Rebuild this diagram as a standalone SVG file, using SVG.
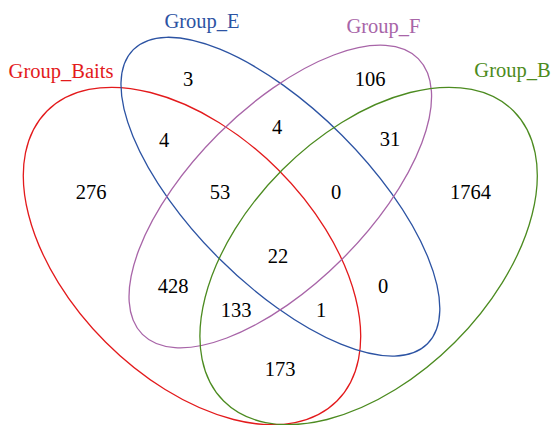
<svg xmlns="http://www.w3.org/2000/svg" width="553" height="425" viewBox="0 0 553 425">
<style>
.e{fill:none;stroke-width:1.3}
text{font-family:"Liberation Serif","Times New Roman",serif;font-size:20.5px;text-anchor:middle}
.n{fill:#000}
</style>
<rect width="553" height="425" fill="#fff"/>
<g id="connectors"></g>
<g id="set_baits">
<ellipse class="e" cx="192" cy="256" rx="205" ry="122" transform="rotate(45 192 256)" stroke="#E31A1C"/>
<text x="61" y="78" fill="#E31A1C">Group_Baits</text>
</g>
<g id="set_e">
<ellipse class="e" cx="280.4" cy="196.7" rx="208" ry="87" transform="rotate(45 280.4 196.7)" stroke="#2C53A3"/>
<text x="202" y="28" fill="#2C53A3">Group_E</text>
</g>
<g id="set_f">
<ellipse class="e" cx="280.3" cy="196.5" rx="195" ry="88" transform="rotate(-45 280.3 196.5)" stroke="#A865A8"/>
<text x="383.5" y="33" fill="#A865A8">Group_F</text>
</g>
<g id="set_b">
<ellipse class="e" cx="368.6" cy="256" rx="205" ry="122" transform="rotate(-45 368.6 256)" stroke="#4C8B20"/>
<text x="512.5" y="77" fill="#4C8B20">Group_B</text>
</g>
<g id="counts">
<text class="n" x="188" y="86">3</text>
<text class="n" x="370" y="86">106</text>
<text class="n" x="164" y="146.5">4</text>
<text class="n" x="277" y="133.5">4</text>
<text class="n" x="390" y="146">31</text>
<text class="n" x="91" y="199">276</text>
<text class="n" x="220" y="199">53</text>
<text class="n" x="336" y="199">0</text>
<text class="n" x="470.5" y="199">1764</text>
<text class="n" x="278" y="263">22</text>
<text class="n" x="173" y="293">428</text>
<text class="n" x="383" y="293">0</text>
<text class="n" x="236" y="317">133</text>
<text class="n" x="321" y="317">1</text>
<text class="n" x="280" y="376">173</text>
</g>
</svg>
